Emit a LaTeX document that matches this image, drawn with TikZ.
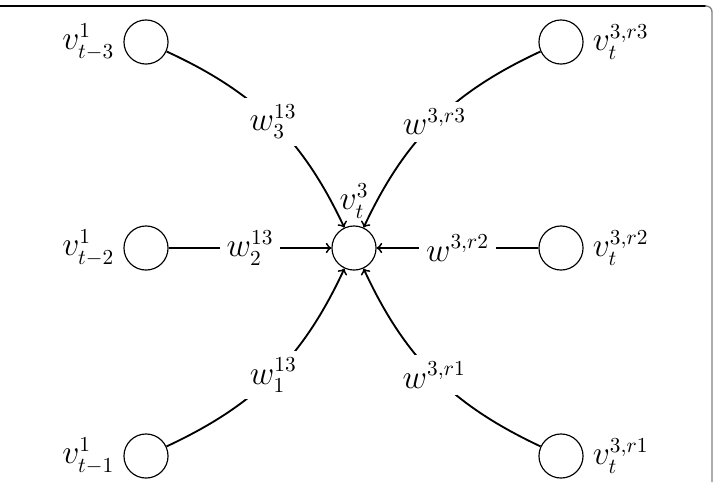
\documentclass[tikz,border=0pt]{standalone}
\usetikzlibrary{positioning}
\begin{document}
\begin{tikzpicture}[x=0.5128pt,y=-0.5128pt,
  every node/.style={font=\fontsize{16}{19}\selectfont},
  vert/.style={draw, circle, minimum size=22.6pt, inner sep=0pt, line width=0.6pt},
  edge/.style={line width=0.95pt, ->},
  wlab/.style={fill=white, inner sep=3.5pt},
  vlab/.style={inner sep=1.5pt}]
\useasboundingbox (0,0) rectangle (714,482);
\draw[line width=0.8pt] (0,6) -- (706,6);
\draw[gray, line width=0.7pt, rounded corners=3pt] (705,6) -- (712,6) -- (712,482);
\node[vert] (c) at (354,248) {};
\node[vert] (a3) at (146,42) {};
\node[vert] (a2) at (146,248) {};
\node[vert] (a1) at (146,456) {};
\node[vert] (b3) at (561,42) {};
\node[vert] (b2) at (561,248) {};
\node[vert] (b1) at (561,456) {};
\node[vlab, left=3pt of a3] (la3) {$v_{t-3}^1$};
\node[vlab, left=3pt of a2] (la2) {$v_{t-2}^1$};
\node[vlab, left=3pt of a1] (la1) {$v_{t-1}^1$};
\node[vlab, right=3pt of b3] (lb3) {$v_t^{3,r3}$};
\node[vlab, right=3pt of b2] (lb2) {$v_t^{3,r2}$};
\node[vlab, right=3pt of b1] (lb1) {$v_t^{3,r1}$};
\node[vlab, above=2pt of c] (lc) {$v_t^3$};
\draw[edge] (a3) to[bend left=20] node[wlab] (w3) {$w_3^{13}$} (c);
\draw[edge] (a2) -- node[wlab] (w2) {$w_2^{13}$} (c);
\draw[edge] (a1) to[bend right=20] node[wlab] (w1) {$w_1^{13}$} (c);
\draw[edge] (b3) to[bend right=20] node[wlab] (r3) {$w^{3,r3}$} (c);
\draw[edge] (b2) -- node[wlab] (r2) {$w^{3,r2}$} (c);
\draw[edge] (b1) to[bend left=20] node[wlab] (r1) {$w^{3,r1}$} (c);
\end{tikzpicture}
\end{document}
